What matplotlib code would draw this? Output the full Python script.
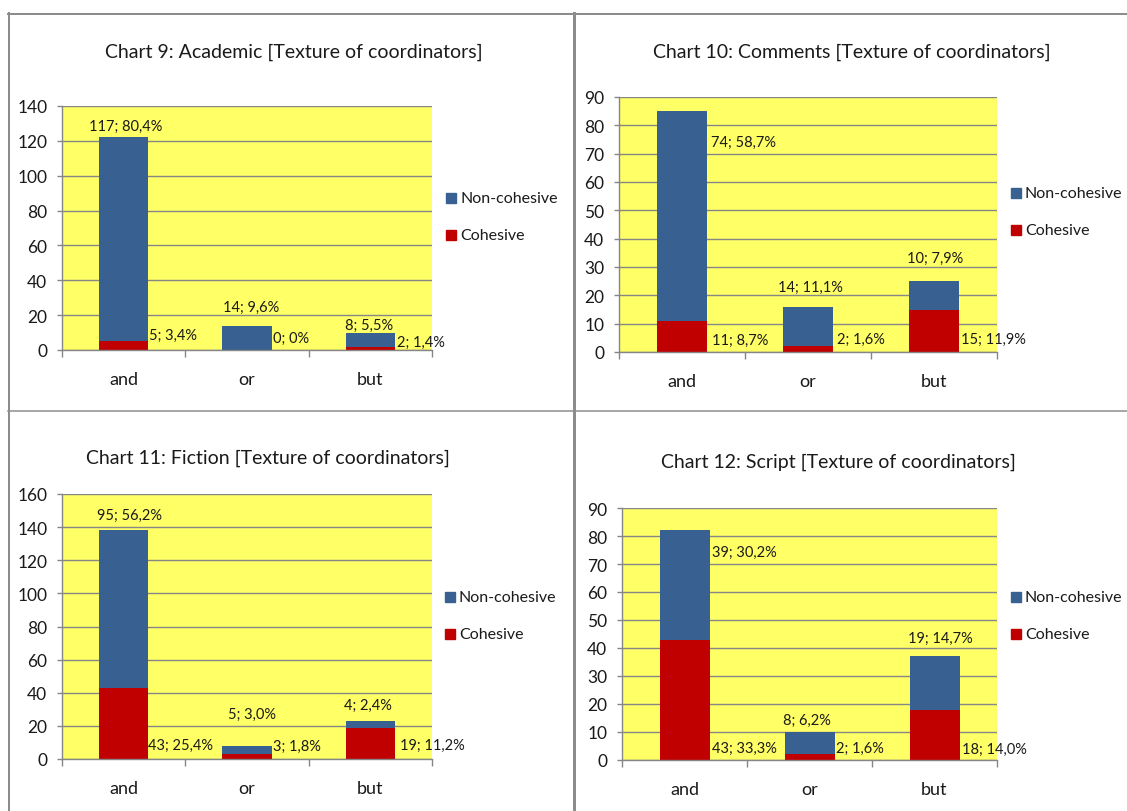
import matplotlib
matplotlib.use("Agg")
import matplotlib.pyplot as plt
from matplotlib.lines import Line2D
from matplotlib.patches import Rectangle

# data
categories = ["and", "or", "but"]
series_names = ["Non-cohesive", "Cohesive"]

titles = [
    "Chart 9: Academic [Texture of coordinators]",
    "Chart 10: Comments [Texture of coordinators]",
    "Chart 11: Fiction [Texture of coordinators]",
    "Chart 12: Script [Texture of coordinators]",
]

academic_noncoh = [117, 14, 8]
academic_coh = [5, 0, 2]
academic_noncoh_lbl = ["117; 80,4%", "14; 9,6%", "8; 5,5%"]
academic_coh_lbl = ["5; 3,4%", "0; 0%", "2; 1,4%"]

comments_noncoh = [74, 14, 10]
comments_coh = [11, 2, 15]
comments_noncoh_lbl = ["74; 58,7%", "14; 11,1%", "10; 7,9%"]
comments_coh_lbl = ["11; 8,7%", "2; 1,6%", "15; 11,9%"]

fiction_noncoh = [95, 5, 4]
fiction_coh = [43, 3, 19]
fiction_noncoh_lbl = ["95; 56,2%", "5; 3,0%", "4; 2,4%"]
fiction_coh_lbl = ["43; 25,4%", "3; 1,8%", "19; 11,2%"]

script_noncoh = [39, 8, 19]
script_coh = [43, 2, 18]
script_noncoh_lbl = ["39; 30,2%", "8; 6,2%", "19; 14,7%"]
script_coh_lbl = ["43; 33,3%", "2; 1,6%", "18; 14,0%"]

y_max = [140, 90, 160, 90]
y_step = [20, 10, 20, 10]

# ---- layout (pixels of the 1127x812 picture) ----
W, H = 1127, 812
BLUE = "#386192"
RED = "#C00000"
YELLOW = "#FFFF66"
GRID = "#868686"
TXT = "#1a1a1a"

plt.rcParams["font.family"] = ["Lato", "DejaVu Sans"]

axes_px = [(62, 107, 432, 351), (619, 98, 997, 353),
           (62, 495, 432, 760), (622, 509, 997, 761)]
title_px = [(294, 52), (852, 52), (268, 458), (838, 462)]
legend_px = [(446, 199), (1011, 194), (445, 598), (1011, 598)]
legend_gap = 37

# label placement: (anchor, dx, dy) in pixels; anchor 'top' = bar centre/top,
# 'right' = bar right edge at segment top
noncoh_pos = [
    [("top", 2, 11), ("top", 4, 19), ("top", -1.5, 7.6)],
    [("right", 3.6, -30.8), ("top", 2, 19.7), ("top", 1, 23.2)],
    [("top", 6, 15.6), ("top", 5, 32), ("top", -2, 16.3)],
    [("right", 2, -21.6), ("top", -2.6, 12.3), ("top", 5.5, 19)],
]
coh_pos = [
    [("right", 1, 6), ("right", 1, 11.7), ("right", 2, 4.8)],
    [("right", 4.6, -18.6), ("right", 4, 7.6), ("right", 1.5, -29.2)],
    [("right", 0, -56.7), ("right", 1, 7.7), ("right", 4.7, -17)],
    [("right", 2, -108.5), ("right", 1.4, 6.1), ("right", 2.3, -38.8)],
]

panels = [
    (academic_noncoh, academic_coh, academic_noncoh_lbl, academic_coh_lbl),
    (comments_noncoh, comments_coh, comments_noncoh_lbl, comments_coh_lbl),
    (fiction_noncoh, fiction_coh, fiction_noncoh_lbl, fiction_coh_lbl),
    (script_noncoh, script_coh, script_noncoh_lbl, script_coh_lbl),
]

fig = plt.figure(figsize=(W / 100, H / 100), dpi=100)
fig.patch.set_facecolor("white")


def fig_rect(l, t, r, b):
    return [l / W, 1 - b / H, (r - l) / W, (b - t) / H]


def fx(x):
    return x / W


def fy(y):
    return 1 - y / H


bar_w = 0.4
x = list(range(len(categories)))

for i, (noncoh, coh, nlbl, clbl) in enumerate(panels):
    ax = fig.add_axes(fig_rect(*axes_px[i]))
    ax.set_facecolor(YELLOW)
    ax.bar(x, coh, bar_w, color=RED, zorder=2)
    ax.bar(x, noncoh, bar_w, bottom=coh, color=BLUE, zorder=2)

    ax.set_xlim(-0.5, 2.5)
    ax.set_ylim(0, y_max[i])
    ax.set_yticks(range(0, y_max[i] + 1, y_step[i]))
    ax.set_axisbelow(True)
    ax.yaxis.grid(True, color=GRID, linewidth=1.0)
    for s in ["top", "right"]:
        ax.spines[s].set_visible(False)
    for s in ["left", "bottom"]:
        ax.spines[s].set_color(GRID)
        ax.spines[s].set_linewidth(1.0)

    ax.set_xticks(x)
    ax.set_xticklabels(categories)
    ax.set_xticks([-0.5, 0.5, 1.5, 2.5], minor=True)
    ax.tick_params(axis="x", which="major", length=0, pad=15, labelsize=13,
                   labelcolor=TXT)
    ax.tick_params(axis="x", which="minor", length=5, color=GRID, width=1)
    ax.tick_params(axis="y", length=3.6, color=GRID, width=1, pad=7,
                   labelsize=12.5, labelcolor=TXT)

    # data labels
    for j in x:
        total = coh[j] + noncoh[j]
        for val_top, txt, (kind, dx, dy) in [(total, nlbl[j], noncoh_pos[i][j]),
                                            (coh[j], clbl[j], coh_pos[i][j])]:
            if kind == "top":
                xy, ha = (j, val_top), "center"
            else:
                xy, ha = (j + bar_w / 2, val_top), "left"
            ax.annotate(txt, xy=xy, xytext=(dx, dy), textcoords="offset pixels",
                        ha=ha, va="center", fontsize=10.5, color=TXT,
                        annotation_clip=False, zorder=3)

    # title
    tx, ty = title_px[i]
    fig.text(fx(tx), fy(ty), titles[i], ha="center", va="center", fontsize=14,
             color=TXT)

    # legend (Non-cohesive on top)
    lx, ly = legend_px[i]
    for k, (name, col) in enumerate(zip(series_names, [BLUE, RED])):
        yy = ly + k * legend_gap
        fig.add_artist(Rectangle((fx(lx), fy(yy + 5)), 10 / W, 10 / H,
                                 transform=fig.transFigure, color=col))
        fig.text(fx(lx + 14), fy(yy), name, ha="left", va="center",
                 fontsize=11.5, color=TXT)

# panel borders
border = "#8c8c8c"
lines = [((8, 1127), (14.5, 14.5), 2.0),
         ((8.5, 8.5), (14, 812), 2.0),
         ((573.5, 573.5), (14, 812), 3.0),
         ((8, 1127), (412, 412), 1.5)]
for xs, ys, lw in lines:
    fig.add_artist(Line2D([fx(v) for v in xs], [fy(v) for v in ys],
                          transform=fig.transFigure, color=border,
                          linewidth=lw * 0.72))

fig.savefig("out.png", dpi=100)
